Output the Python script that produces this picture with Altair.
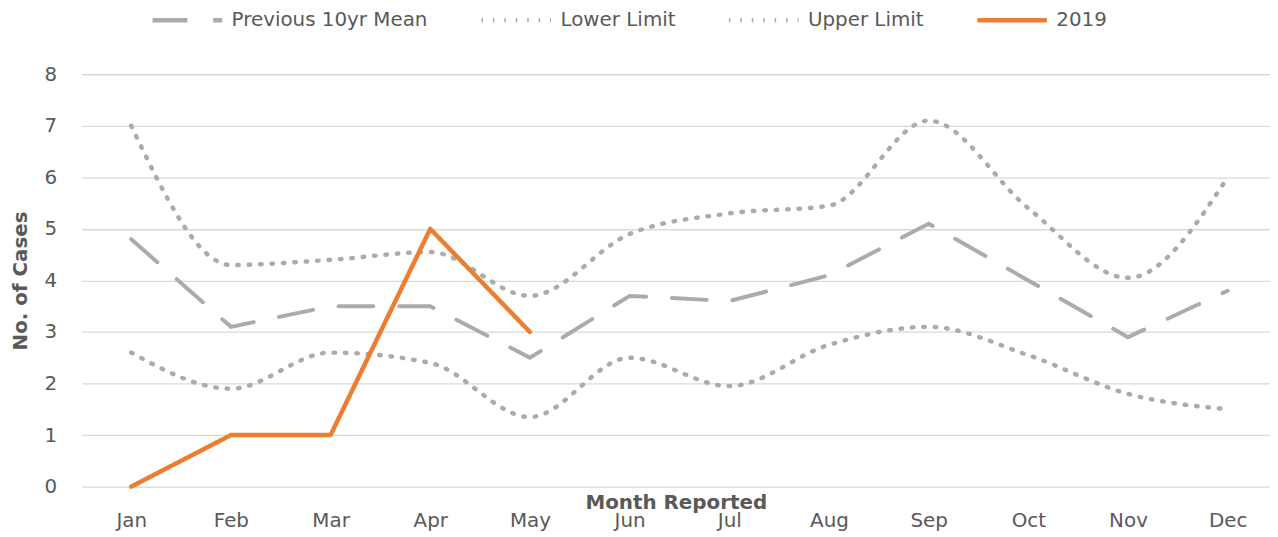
import altair as alt
import pandas as pd

months = ["Jan", "Feb", "Mar", "Apr", "May", "Jun", "Jul", "Aug", "Sep", "Oct", "Nov", "Dec"]
mean_10yr = [4.8, 3.1, 3.5, 3.5, 2.5, 3.7, 3.6, 4.1, 5.1, 4.0, 2.9, 3.8]
lower_limit = [2.6, 1.9, 2.6, 2.4, 1.35, 2.5, 1.95, 2.75, 3.1, 2.55, 1.8, 1.5]
upper_limit = [7.0, 4.3, 4.4, 4.55, 3.7, 4.9, 5.3, 5.45, 7.1, 5.4, 4.05, 6.0]
cases_2019 = [0, 1, 1, 5, 3]
series_names = ["Previous 10yr Mean", "Lower Limit", "Upper Limit", "2019"]

rows = []
for name, vals in zip(series_names, [mean_10yr, lower_limit, upper_limit, cases_2019]):
    for m, v in zip(months, vals):
        rows.append({"month": m, "series": name, "value": v})
df = pd.DataFrame(rows)

GRAY = "#AEAAAA"
ORANGE = "#ED7D31"
TXT = "#595959"
FONT = "DejaVu Sans"

legend = alt.Legend(
    title=None, orient="none", direction="horizontal", columns=4,
    legendX=69, legendY=-92,
    symbolType="stroke", symbolSize=4900, symbolStrokeWidth=4.5,
    columnPadding=44, labelOffset=7, labelLimit=400,
    labelFont=FONT, labelFontSize=20, labelColor=TXT,
)

x = alt.X("month:N", sort=months,
          scale=alt.Scale(type="point", padding=0.4615, align=0.54),
          axis=alt.Axis(title="Month Reported", labelAngle=0, domain=False, ticks=False,
                        grid=False, labelPadding=24, titleY=22, titleBaseline="alphabetic"))
y = alt.Y("value:Q", scale=alt.Scale(domain=[0, 8], nice=False),
          axis=alt.Axis(title="No. of Cases", values=list(range(9)), domain=False, ticks=False,
                        labelPadding=25, titlePadding=14, gridColor="#D9D9D9", gridWidth=1.3))
color = alt.Color("series:N", scale=alt.Scale(domain=series_names, range=[GRAY, GRAY, GRAY, ORANGE]),
                  legend=legend)
dash = alt.StrokeDash("series:N",
                      scale=alt.Scale(domain=series_names, range=[[35, 26], [1.5, 10], [1.5, 10], [1, 0]]),
                      legend=legend)

base = alt.Chart(df).encode(x=x, y=y, color=color, strokeDash=dash, detail="series:N")

limits = base.transform_filter(
    alt.FieldOneOfPredicate(field="series", oneOf=["Lower Limit", "Upper Limit"])
).mark_line(interpolate="monotone", strokeWidth=4.5, strokeCap="round")

mean = base.transform_filter(
    alt.FieldEqualPredicate(field="series", equal="Previous 10yr Mean")
).mark_line(strokeWidth=4, strokeCap="round")

cur = base.transform_filter(
    alt.FieldEqualPredicate(field="series", equal="2019")
).mark_line(strokeWidth=4.5, strokeCap="round", strokeJoin="round")

chart = alt.layer(limits, mean, cur).properties(
    width=1196, height=415,
    autosize=alt.AutoSizeParams(type="none"),
    padding={"left": 74, "top": 65, "right": 0, "bottom": 45},
).configure_view(stroke=None).configure_axis(
    labelFont=FONT, labelFontSize=20, labelColor=TXT,
    titleFont=FONT, titleFontSize=20, titleColor=TXT, titleFontWeight="bold",
)

chart.save("out.html", embed_options={"renderer": "svg", "actions": False})
